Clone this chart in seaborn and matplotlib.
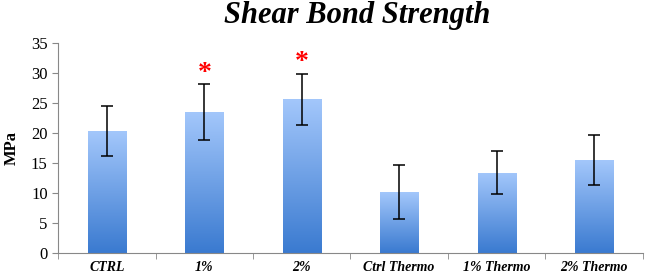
import numpy as np
import pandas as pd
import matplotlib
matplotlib.use('Agg')
import matplotlib.pyplot as plt
import seaborn as sns
from matplotlib.colors import LinearSegmentedColormap

groups = ['CTRL', '1%', '2%', 'Ctrl Thermo', '1% Thermo', '2% Thermo']
strength = [20.3, 23.5, 25.6, 10.1, 13.4, 15.5]
sd = [4.2, 4.6, 4.3, 4.5, 3.6, 4.2]
significant = [False, True, True, False, False, False]

df = pd.DataFrame({'group': groups, 'strength': strength})

sns.set_style('white')
plt.rcParams['font.family'] = ['Liberation Serif', 'DejaVu Serif']
plt.rcParams['text.color'] = 'black'
plt.rcParams['xtick.color'] = 'black'
plt.rcParams['ytick.color'] = 'black'
plt.rcParams['axes.labelcolor'] = 'black'

fig = plt.figure(figsize=(6.46, 2.74), dpi=100)
ax = fig.add_axes([0.09, 0.077, 0.905, 0.766])

sns.barplot(data=df, x='group', y='strength', width=0.39, color='#6fa3ea', ax=ax)
ax.errorbar(range(len(groups)), strength, yerr=sd, fmt='none',
            ecolor='black', elinewidth=1.1, capsize=4, capthick=1.1, zorder=5)

# vertical gradient on the bars
cmap = LinearSegmentedColormap.from_list('bars', ['#3a7ad0', '#a3c7fb'])
grad = np.linspace(0, 1, 256).reshape(-1, 1)
for p in ax.patches:
    x0, y0 = p.get_x(), p.get_y()
    w, h = p.get_width(), p.get_height()
    im = ax.imshow(grad, cmap=cmap, aspect='auto', origin='lower',
                   extent=[x0, x0 + w, y0, y0 + h], zorder=p.get_zorder())
    im.set_clip_path(p)
    p.set_alpha(0)

for i, sig in enumerate(significant):
    if sig:
        ax.text(i, strength[i] + sd[i] + 1.8, '*', color='red', ha='center',
                va='center', fontsize=20, fontweight='bold')

ax.set_xlim(-0.5, len(groups) - 0.5)
ax.set_ylim(0, 35)
ax.set_yticks(range(0, 36, 5))
ax.set_xticks(np.arange(-0.5, len(groups), 1.0), minor=True)
ax.set_xticks(range(len(groups)))
ax.set_xticklabels(groups, fontstyle='italic', fontweight='bold', fontsize=10)
ax.tick_params(axis='x', which='major', length=0, pad=6)
ax.tick_params(axis='x', which='minor', length=4, color='#888888', direction='out', bottom=True)
ax.tick_params(axis='y', length=4, color='#888888', direction='out', left=True, labelsize=12)
ax.set_xlabel('')
ax.set_ylabel('MPa', fontweight='bold', fontsize=12, labelpad=8)
sns.despine(ax=ax)
ax.spines['left'].set_color('#888888')
ax.spines['bottom'].set_color('#888888')

fig.suptitle('Shear Bond Strength', x=0.553, y=0.995, fontsize=22,
             fontweight='bold', fontstyle='italic')

fig.savefig('out.png', dpi=100)
